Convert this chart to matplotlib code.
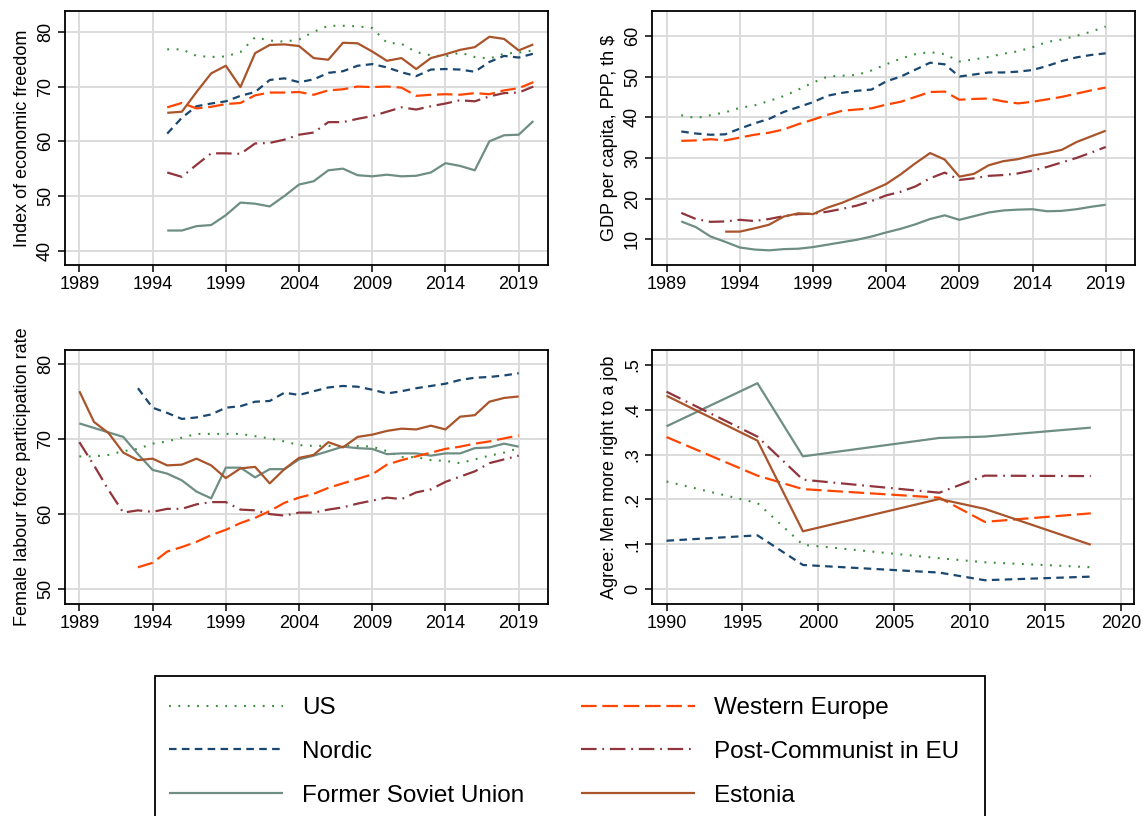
import numpy as np
import matplotlib
matplotlib.use('Agg')
import matplotlib.pyplot as plt
from matplotlib.patches import Rectangle

plt.rcParams['font.family'] = ['Liberation Sans', 'DejaVu Sans']

# ---- data ----
series_names = ['US', 'Nordic', 'Former Soviet Union',
                'Western Europe', 'Post-Communist in EU', 'Estonia']

# Index of economic freedom, 1995-2020
efi_years = list(range(1995, 2021))
efi_us = [76.8, 76.8, 75.6, 75.4, 75.5, 76.3, 79.0, 78.4, 78.2, 78.6, 80.0, 81.1, 81.1,
          81.0, 80.7, 78.0, 77.8, 76.3, 75.7, 75.5, 76.2, 75.4, 75.1, 76.0, 76.2, 76.6]
efi_nordic = [61.4, 64.3, 66.4, 66.9, 67.3, 68.3, 69.0, 71.2, 71.5, 70.8, 71.3, 72.5, 72.8,
              73.8, 74.1, 73.5, 72.6, 71.9, 73.1, 73.2, 73.1, 72.7, 74.5, 75.6, 75.3, 76.0]
efi_fsu = [43.7, 43.7, 44.5, 44.7, 46.5, 48.8, 48.6, 48.1, 50.0, 52.1, 52.7, 54.7, 55.0,
           53.8, 53.6, 53.9, 53.6, 53.7, 54.3, 56.0, 55.5, 54.7, 60.0, 61.1, 61.2, 63.7]
efi_we = [66.2, 67.0, 66.0, 66.3, 66.8, 67.0, 68.4, 68.9, 68.9, 69.0, 68.5, 69.3, 69.5,
          70.0, 69.9, 70.0, 69.8, 68.3, 68.5, 68.6, 68.5, 68.8, 68.6, 69.3, 69.7, 70.8]
efi_pc = [54.3, 53.5, 55.7, 57.8, 57.8, 57.7, 59.6, 59.7, 60.3, 61.2, 61.6, 63.5, 63.5,
          64.1, 64.6, 65.4, 66.2, 65.8, 66.4, 66.9, 67.5, 67.3, 68.2, 68.8, 68.9, 70.0]
efi_est = [65.2, 65.4, 69.0, 72.4, 73.8, 69.9, 76.1, 77.6, 77.7, 77.4, 75.2, 74.9, 78.0,
           77.9, 76.4, 74.7, 75.2, 73.2, 75.2, 75.9, 76.7, 77.2, 79.1, 78.7, 76.6, 77.7]

# GDP per capita, PPP, thousand $, 1990-2019 (Estonia from 1993)
gdp_years = list(range(1990, 2020))
gdp_est_years = list(range(1993, 2020))
gdp_us = [40.5, 39.8, 40.5, 41.2, 42.3, 42.9, 44.0, 45.2, 46.8, 48.5, 50.0, 50.2, 50.4, 51.5, 53.0,
          54.4, 55.5, 56.0, 55.5, 53.7, 54.2, 54.8, 55.6, 56.2, 57.2, 58.5, 59.1, 60.0, 61.0, 62.3]
gdp_nordic = [36.5, 36.0, 35.7, 35.8, 37.2, 38.5, 39.6, 41.3, 42.5, 43.7, 45.3, 46.0, 46.5, 46.8, 48.8,
              50.0, 51.7, 53.4, 53.0, 50.0, 50.5, 51.0, 51.0, 51.2, 51.6, 52.6, 53.8, 54.7, 55.3, 55.7]
gdp_fsu = [14.4, 13.0, 10.7, 9.4, 8.0, 7.5, 7.3, 7.6, 7.7, 8.1, 8.7, 9.3, 9.9, 10.7, 11.7,
           12.6, 13.7, 15.0, 15.9, 14.8, 15.7, 16.6, 17.1, 17.3, 17.4, 16.9, 17.0, 17.4, 18.0, 18.5]
gdp_we = [34.2, 34.3, 34.6, 34.3, 35.0, 35.7, 36.2, 37.0, 38.3, 39.4, 40.6, 41.6, 41.9, 42.2, 43.1,
          43.8, 45.0, 46.2, 46.3, 44.3, 44.5, 44.6, 43.9, 43.4, 43.8, 44.4, 45.0, 45.8, 46.6, 47.3]
gdp_pc = [16.5, 15.0, 14.3, 14.4, 14.8, 14.5, 15.0, 15.7, 16.2, 16.3, 16.8, 17.5, 18.3, 19.4, 20.8,
          21.7, 23.0, 25.0, 26.4, 24.6, 25.0, 25.6, 25.8, 26.2, 26.9, 27.8, 28.9, 30.0, 31.3, 32.7]
gdp_est = [11.9, 11.9, 12.7, 13.6, 15.6, 16.4, 16.2, 17.8, 19.0, 20.5, 22.0, 23.6, 26.0, 28.7,
           31.2, 29.6, 25.4, 26.1, 28.2, 29.2, 29.7, 30.6, 31.2, 32.0, 33.9, 35.3, 36.7]

# Female labour force participation rate, 1989-2019 (Nordic and W. Europe from 1993)
flf_years = list(range(1989, 2020))
flf_short_years = list(range(1993, 2020))
flf_us = [67.7, 67.7, 67.9, 68.4, 68.7, 69.4, 69.7, 70.2, 70.7, 70.7, 70.7, 70.7, 70.4, 70.1, 69.7, 69.2,
          69.1, 69.1, 69.1, 69.1, 69.0, 68.4, 67.6, 67.6, 67.2, 67.1, 66.8, 67.3, 67.8, 68.2, 68.8]
flf_nordic = [76.8, 74.2, 73.5, 72.7, 72.9, 73.3, 74.2, 74.4, 75.0, 75.1, 76.2, 75.9, 76.4, 76.9,
              77.1, 77.0, 76.6, 76.1, 76.4, 76.8, 77.1, 77.4, 77.9, 78.2, 78.3, 78.5, 78.8]
flf_fsu = [72.1, 71.5, 70.9, 70.3, 68.0, 65.9, 65.4, 64.5, 63.0, 62.1, 66.2, 66.2, 64.9, 66.0, 66.0, 67.3,
           67.8, 68.4, 69.0, 68.8, 68.7, 68.0, 68.1, 68.1, 67.8, 68.1, 68.1, 68.8, 68.9, 69.4, 69.0]
flf_we = [52.9, 53.5, 55.0, 55.6, 56.3, 57.2, 57.9, 58.8, 59.5, 60.4, 61.5, 62.2, 62.7, 63.5,
          64.1, 64.7, 65.3, 66.6, 67.2, 67.7, 68.2, 68.7, 69.0, 69.4, 69.7, 70.1, 70.5]
flf_pc = [69.6, 66.5, 63.2, 60.2, 60.5, 60.3, 60.7, 60.7, 61.3, 61.6, 61.6, 60.6, 60.5, 60.0, 59.8, 60.2,
          60.2, 60.6, 60.9, 61.4, 61.8, 62.2, 62.0, 62.9, 63.3, 64.3, 65.0, 65.7, 66.8, 67.3, 67.8]
flf_est = [76.4, 72.3, 70.8, 68.2, 67.2, 67.4, 66.5, 66.6, 67.4, 66.5, 64.8, 66.1, 66.3, 64.1, 66.0, 67.5,
           67.9, 69.6, 68.9, 70.3, 70.6, 71.1, 71.4, 71.3, 71.8, 71.3, 73.0, 73.2, 75.0, 75.5, 75.7]

# Agree: men have more right to a job (survey waves)
wvs_years = [1990, 1996, 1999, 2008, 2011, 2018]
wvs_us = [0.240, 0.192, 0.099, 0.069, 0.060, 0.049]
wvs_nordic = [0.108, 0.120, 0.054, 0.037, 0.020, 0.028]
wvs_fsu = [0.363, 0.459, 0.296, 0.337, 0.340, 0.360]
wvs_we = [0.339, 0.253, 0.223, 0.204, 0.150, 0.169]
wvs_pc = [0.440, 0.340, 0.244, 0.215, 0.253, 0.252]
wvs_est = [0.431, 0.331, 0.129, 0.201, 0.179, 0.099]

# ---- styles ----
styles = {
    'US': dict(color='#3a8f3a', ls=(0, (0.9, 3.6)), lw=1.5),
    'Nordic': dict(color='#1a476f', ls=(0, (3.4, 2.4)), lw=1.6),
    'Former Soviet Union': dict(color='#6e8e84', ls='-', lw=1.6),
    'Western Europe': dict(color='#ff4500', ls=(0, (7, 2.6)), lw=1.6),
    'Post-Communist in EU': dict(color='#90353b', ls=(0, (7, 2.6, 0.8, 2.6)), lw=1.6),
    'Estonia': dict(color='#a9542b', ls='-', lw=1.6),
}

W, H = 1144, 816
fig = plt.figure(figsize=(W / 100, H / 100), dpi=100)

def px_axes(left, right, top, bottom):
    # axes box given in pixels of the reference
    return fig.add_axes([left / W, 1 - bottom / H, (right - left) / W, (bottom - top) / H])

def setup(ax, xlim, ylim, xt, yt, ylab, ytl=None):
    ax.set_xlim(*xlim)
    ax.set_ylim(*ylim)
    ax.set_xticks(xt)
    ax.set_yticks(yt)
    if ytl is not None:
        ax.set_yticklabels(ytl)
    ax.grid(True, color='#dcdcdc', lw=1.4)
    ax.set_axisbelow(True)
    for s in ax.spines.values():
        s.set_linewidth(1.3)
        s.set_color('black')
    ax.tick_params(axis='both', direction='out', length=5, width=1.1, labelsize=13, pad=3)
    for lab in ax.get_yticklabels():
        lab.set_rotation(90)
        lab.set_va('center')
    ax.set_ylabel(ylab, fontsize=13, labelpad=4)

def draw(ax, data):
    handles = []
    for name, x, y in data:
        h, = ax.plot(x, y, label=name, solid_capstyle='butt', dash_capstyle='butt', **styles[name])
        handles.append(h)
    return handles

# panel 1: economic freedom
ax1 = px_axes(65, 548, 11, 265)
draw(ax1, [
    ('US', efi_years, efi_us), ('Nordic', efi_years, efi_nordic),
    ('Former Soviet Union', efi_years, efi_fsu), ('Western Europe', efi_years, efi_we),
    ('Post-Communist in EU', efi_years, efi_pc), ('Estonia', efi_years, efi_est)])
setup(ax1, (1988.02, 2021.0), (37.4, 83.8), range(1989, 2020, 5), range(40, 81, 10),
      'Index of economic freedom')

# panel 2: GDP per capita
ax2 = px_axes(652, 1135, 11, 265)
draw(ax2, [
    ('US', gdp_years, gdp_us), ('Nordic', gdp_years, gdp_nordic),
    ('Former Soviet Union', gdp_years, gdp_fsu), ('Western Europe', gdp_years, gdp_we),
    ('Post-Communist in EU', gdp_years, gdp_pc), ('Estonia', gdp_est_years, gdp_est)])
setup(ax2, (1988.0, 2021.0), (3.7, 66.1), range(1989, 2020, 5), range(10, 61, 10),
      'GDP per capita, PPP, th $')

# panel 3: female labour force participation
ax3 = px_axes(65, 548, 350, 604)
draw(ax3, [
    ('US', flf_years, flf_us), ('Nordic', flf_short_years, flf_nordic),
    ('Former Soviet Union', flf_years, flf_fsu), ('Western Europe', flf_short_years, flf_we),
    ('Post-Communist in EU', flf_years, flf_pc), ('Estonia', flf_years, flf_est)])
setup(ax3, (1988.02, 2021.0), (48.0, 81.9), range(1989, 2020, 5), range(50, 81, 10),
      'Female labour force participation rate')

# panel 4: attitudes
ax4 = px_axes(652, 1134, 350, 604)
handles = draw(ax4, [
    ('US', wvs_years, wvs_us), ('Nordic', wvs_years, wvs_nordic),
    ('Former Soviet Union', wvs_years, wvs_fsu), ('Western Europe', wvs_years, wvs_we),
    ('Post-Communist in EU', wvs_years, wvs_pc), ('Estonia', wvs_years, wvs_est)])
setup(ax4, (1989.04, 2020.85), (-0.033, 0.533), range(1990, 2021, 5), np.arange(0, 0.51, 0.1),
      'Agree: Men more right to a job', ytl=['0', '.1', '.2', '.3', '.4', '.5'])

# legend box (runs off the bottom edge, as in the reference)
fig.patches.append(Rectangle((155 / W, -0.05), (985 - 155) / W, (H - 676) / H + 0.05,
                             transform=fig.transFigure, fill=False, ec='black', lw=1.3))
leg = fig.legend(handles, series_names, loc='upper left', bbox_to_anchor=(169 / W, 1 - 697 / H),
                 ncol=2, fontsize=17.5, frameon=False, handlelength=4.68,
                 handletextpad=0.78, columnspacing=2.34, labelspacing=0.9, borderpad=0,
                 borderaxespad=0)

fig.savefig('out.png', dpi=100)
